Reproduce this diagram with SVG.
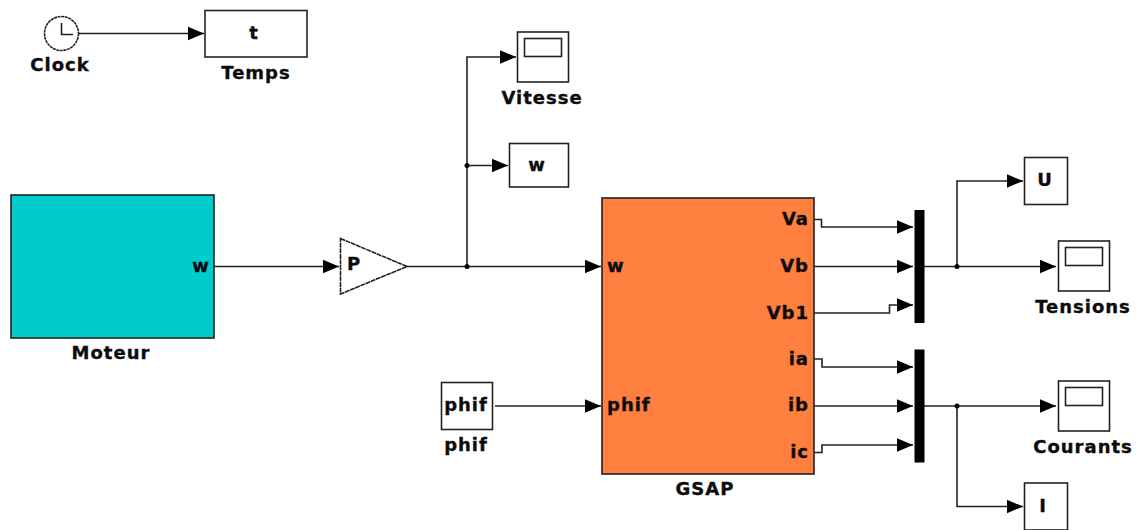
<svg xmlns="http://www.w3.org/2000/svg" width="1138" height="530" viewBox="0 0 1138 530">
<defs>
<marker id="a" markerUnits="userSpaceOnUse" markerWidth="17" markerHeight="15" refX="16.500" refY="7.500" orient="auto"><path d="M0 .5L16.500 7.500L0 14.500Z" fill="#000"/></marker>
<g id="scope-icon"><rect x="0" y="0" width="51" height="50" fill="#fff" stroke="#222" stroke-width="1.6"/><rect x="7" y="6.500" width="37" height="18" fill="#fff" stroke="#222" stroke-width="1.6"/></g>
</defs>
<style>
text{font-family:"DejaVu Sans",Verdana,sans-serif;font-weight:700;font-size:18px;fill:#0c0c0c;stroke:#0c0c0c;stroke-width:.35px;letter-spacing:1px}
.m{text-anchor:middle}.e{text-anchor:end}
.b{fill:#fff;stroke:#222;stroke-width:1.6}
.c path{fill:none;stroke:#222;stroke-width:1.6;marker-end:url(#a)}
.c circle{fill:#000}
</style>
<rect width="1138" height="530" fill="#fff"/>
<g id="connectors" class="c">
<path d="M79 33.500H204"/>
<path d="M214 266.500H339"/>
<path d="M407 266.500H601"/>
<path d="M467 266.500V57H516"/>
<path d="M467 165.500H508"/>
<path d="M495 406H601"/>
<path d="M814 219.500H821.500V227H913"/>
<path d="M814 266.500H913"/>
<path d="M814 313H889.500V305H913"/>
<path d="M814 359H822V367H913"/>
<path d="M814 406H913"/>
<path d="M814 452.500H822V445H913"/>
<path d="M924 266.500H1056"/>
<path d="M957 266.500V181H1023"/>
<path d="M924 406H1056"/>
<path d="M957 406V506.500H1023"/>
<circle cx="467" cy="266.500" r="2.500"/><circle cx="467" cy="165.500" r="2.500"/><circle cx="957" cy="266.500" r="2.500"/><circle cx="957" cy="406" r="2.500"/>
</g>
<g id="clock"><circle cx="61.500" cy="33.500" r="17" class="b" stroke-dasharray="3 .6"/><path d="M61.500 23V34.500H73" fill="none" stroke="#222" stroke-width="1.600"/><text x="60" y="71" class="m">Clock</text></g>
<g id="temps"><rect x="205" y="10.500" width="102" height="46.500" class="b"/><text x="254" y="39" class="m">t</text><text x="256" y="79" class="m">Temps</text></g>
<g id="vitesse"><use href="#scope-icon" x="517.500" y="32"/><text x="542" y="104" class="m">Vitesse</text></g>
<g id="w-sink"><rect x="509.500" y="143.500" width="59" height="43.500" class="b"/><text x="537" y="171" class="m">w</text></g>
<g id="moteur"><rect x="11" y="195" width="203" height="143" fill="#00cccc" stroke="#222" stroke-width="1.600"/><text x="210" y="272" class="e">w</text><text x="111" y="359" class="m">Moteur</text></g>
<g id="gain"><path d="M340.500 238.500L407 266.500L340.500 294Z" class="b" stroke-dasharray="5 .6"/><text x="347" y="270">P</text></g>
<g id="phif"><rect x="441.500" y="382.500" width="51" height="47" class="b"/><text x="466" y="411" class="m">phif</text><text x="466" y="451" class="m">phif</text></g>
<g id="gsap"><rect x="602" y="198" width="212" height="276" fill="#ff7f3f" stroke="#222" stroke-width="1.600"/><text x="607" y="272">w</text><text x="607" y="411">phif</text><text x="809" y="225" class="e">Va</text><text x="809" y="272" class="e">Vb</text><text x="809" y="319" class="e">Vb1</text><text x="809" y="365" class="e">ia</text><text x="809" y="411" class="e">ib</text><text x="809" y="458" class="e">ic</text><text x="705" y="495" class="m">GSAP</text></g>
<g id="mux1"><rect x="914.500" y="210" width="10" height="113" fill="#000"/></g>
<g id="mux2"><rect x="914.500" y="349.500" width="10" height="113" fill="#000"/></g>
<g id="u"><rect x="1024.500" y="157.500" width="43" height="47" class="b"/><text x="1045" y="186" class="m">U</text></g>
<g id="tensions"><use href="#scope-icon" x="1058.500" y="241"/><text x="1083" y="313" class="m">Tensions</text></g>
<g id="courants"><use href="#scope-icon" x="1058.500" y="381"/><text x="1083" y="453" class="m">Courants</text></g>
<g id="i"><rect x="1024.500" y="483" width="43" height="47" class="b"/><text x="1043" y="512" class="m">I</text></g>
</svg>
